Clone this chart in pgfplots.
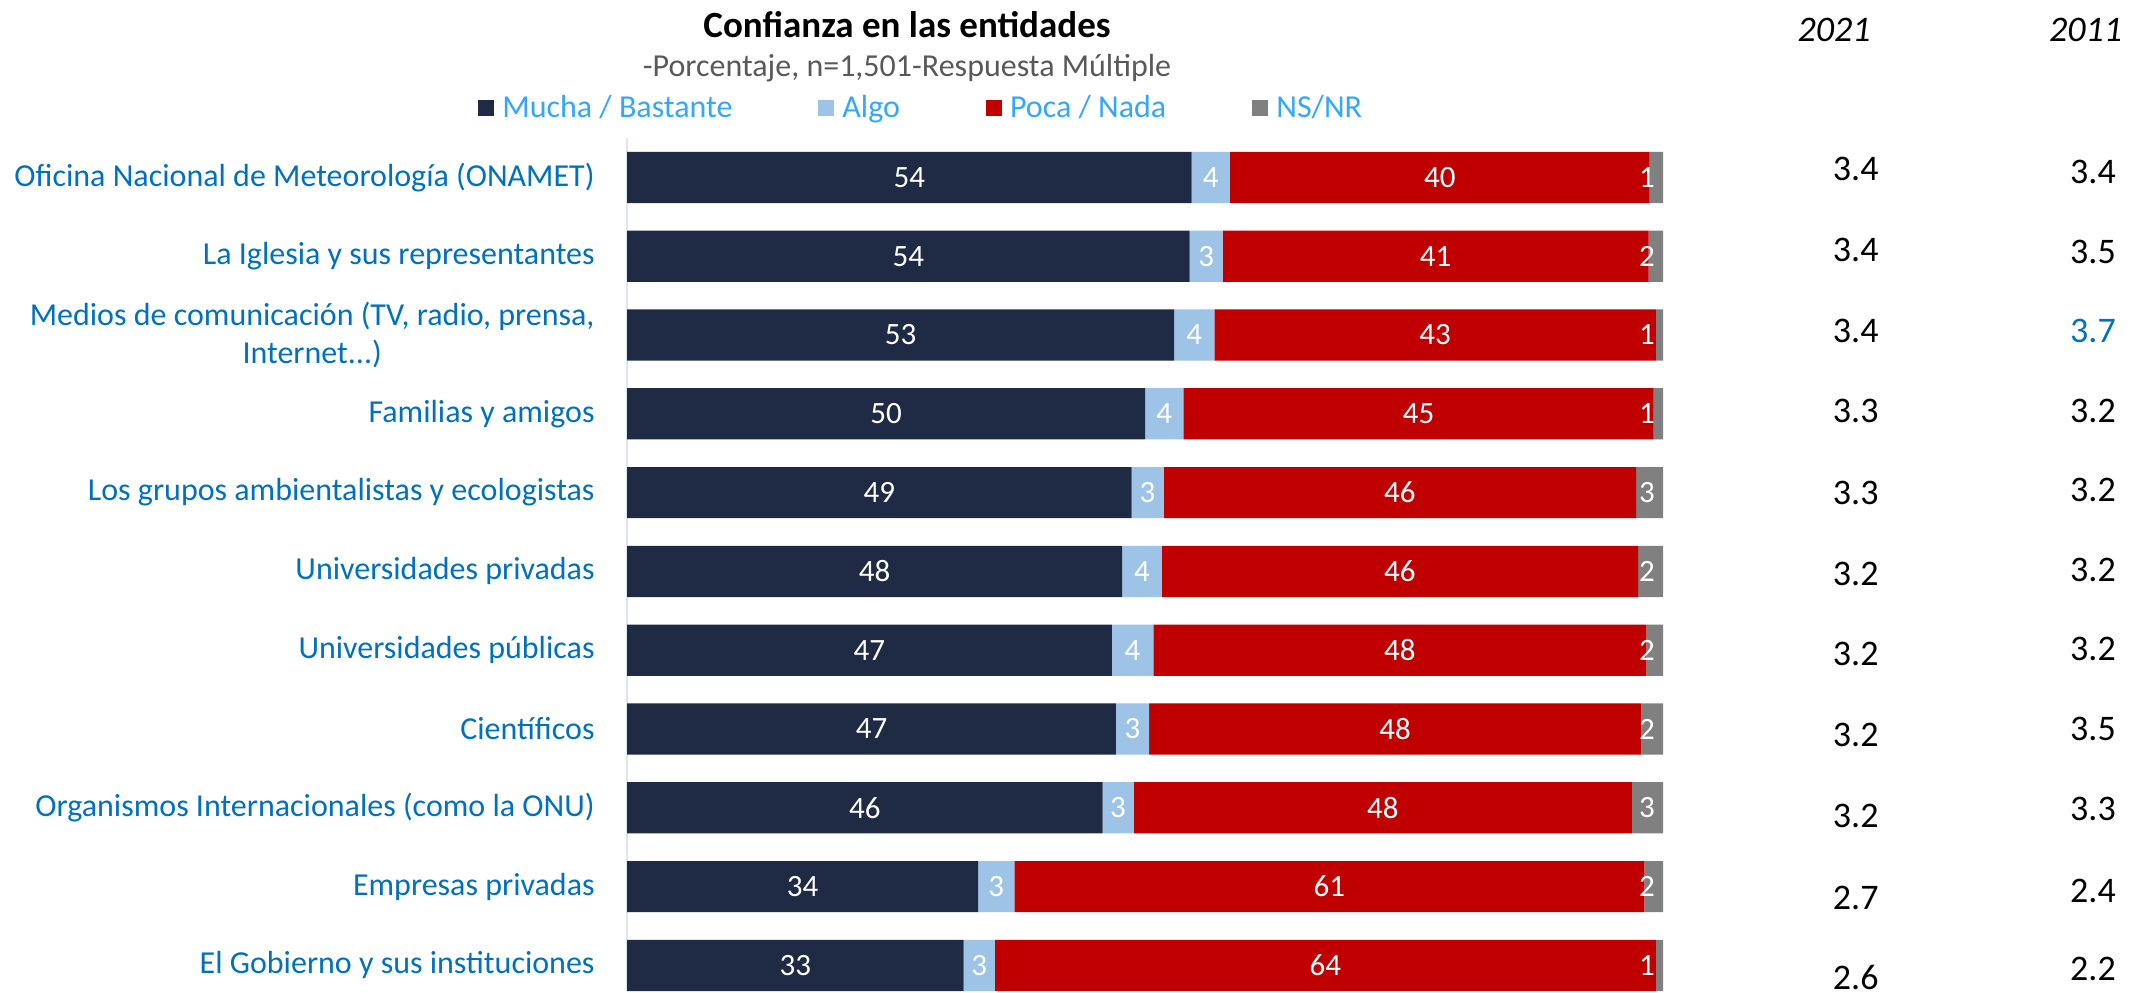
\documentclass[border=0pt]{standalone}
\usepackage{fontspec}
\setmainfont{Carlito}
\usepackage{pgfplots}
\usepackage{pgfplotstable}
\pgfplotsset{compat=1.18}
\definecolor{cdark}{RGB}{31,42,68}
\definecolor{calgo}{RGB}{157,195,230}
\definecolor{cred}{RGB}{192,0,0}
\definecolor{cgray}{RGB}{128,128,128}
\definecolor{catblue}{RGB}{0,112,192}
\definecolor{legblue}{RGB}{51,166,255}
\definecolor{subgray}{RGB}{89,89,89}
\definecolor{axline}{RGB}{218,230,242}
\newcommand{\threedots}{.\kern0pt.\kern0pt.}

\pgfplotstableread{
y val lab
0 54.5 54
1 54.3 54
2 52.8 53
3 50.0 50
4 48.7 49
5 47.8 48
6 46.8 47
7 47.2 47
8 45.9 46
9 33.9 34
10 32.5 33
}\mucha
\pgfplotstableread{
y val lab
0 3.7 4
1 3.2 3
2 3.9 4
3 3.7 4
4 3.1 3
5 3.8 4
6 4.0 4
7 3.2 3
8 3.0 3
9 3.5 3
10 3.0 3
}\algo
\pgfplotstableread{
y val lab
0 40.5 40
1 41.1 41
2 42.6 43
3 45.4 45
4 45.6 46
5 46.0 46
6 47.6 48
7 47.5 48
8 48.1 48
9 60.8 61
10 63.8 64
}\poca
\pgfplotstableread{
y val lab
0 1.3 1
1 1.4 2
2 0.7 1
3 0.9 1
4 2.6 3
5 2.4 2
6 1.6 2
7 2.1 2
8 3.0 3
9 1.8 2
10 0.7 1
}\nsnr

\begin{document}
\begin{tikzpicture}
\useasboundingbox (0,0) rectangle (1070.5pt,-496pt);
\begin{axis}[
  at={(313.5pt,-69pt)}, anchor=north west,
  scale only axis, width=518pt, height=426.5pt,
  xbar stacked, bar width=0.65,
  xmin=0, xmax=100, ymin=-0.5, ymax=10.325, y dir=reverse,
  axis x line=none, axis y line*=left,
  y axis line style={draw=axline, line width=1pt, -},
  ytick={0,1,2,3,4,5,6,7,8,9,10},
  yticklabels={Oficina Nacional de Meteorología (ONAMET),
    La Iglesia y sus representantes,
    {Medios de comunicación (TV, radio, prensa,\\Internet\threedots)},
    Familias y amigos,
    Los grupos ambientalistas y ecologistas,
    Universidades privadas,
    Universidades públicas,
    Científicos,
    Organismos Internacionales (como la ONU),
    Empresas privadas,
    El Gobierno y sus instituciones},
  major tick length=0pt,
  yticklabel style={font=\fontsize{16pt}{19pt}\selectfont, text=catblue, align=center, anchor=east, inner sep=0pt, xshift=-16pt},
  nodes near coords, point meta=explicit symbolic,
  every node near coord/.append style={font=\fontsize{15.5pt}{18pt}\selectfont, text=white, anchor=center},
  clip=false,
  legend image code/.code={\fill[#1] (0pt,-4pt) rectangle (8pt,4pt);},
  legend style={at={(-0.1438,1.0354)}, anchor=west, draw=none, fill=none, inner sep=0pt,
    legend columns=4, font=\fontsize{16pt}{19pt}\selectfont, text=legblue,
    /tikz/every even column/.append style={column sep=41pt},
    /tikz/every odd column/.append style={column sep=2pt}},
  legend cell align=left,
]
\addplot[fill=cdark, draw=none] table[x=val, y=y, meta=lab]{\mucha};
\addplot[fill=calgo, draw=none] table[x=val, y=y, meta=lab]{\algo};
\addplot[fill=cred, draw=none] table[x=val, y=y, meta=lab]{\poca};
\addplot[fill=cgray, draw=none,
  visualization depends on={\thisrow{val} \as \segval},
  nodes near coords style={xshift={min(0,2.59*\segval-8)*1pt}}] table[x=val, y=y, meta=lab]{\nsnr};
\legend{Mucha / Bastante, Algo, Poca / Nada, NS/NR}
\end{axis}
\begin{axis}[
  at={(313.5pt,-69pt)}, anchor=north west,
  scale only axis, width=518pt, height=426.5pt,
  xmin=0, xmax=100, ymin=-0.5, ymax=10.325, y dir=reverse,
  hide axis, clip=false,
  nodes near coords, point meta=explicit symbolic,
  every node near coord/.append style={font=\fontsize{18pt}{21pt}\selectfont, anchor=center},
]
\addplot[only marks, mark=none, nodes near coords style={text=black}] coordinates {
(118.6,-0.11)[3.4] (118.6,0.92)[3.4] (118.6,1.95)[3.4] (118.6,2.97)[3.3]
(118.6,4.00)[3.3] (118.6,5.03)[3.2] (118.6,6.05)[3.2] (118.6,7.08)[3.2]
(118.6,8.10)[3.2] (118.6,9.14)[2.7] (118.6,10.15)[2.6]};
\addplot[only marks, mark=none, nodes near coords style={text=black}] coordinates {
(141.5,-0.075)[3.4] (141.5,0.94)[3.5] (141.5,2.96)[3.2]
(141.5,3.97)[3.2] (141.5,4.98)[3.2] (141.5,5.99)[3.2] (141.5,7.00)[3.5]
(141.5,8.01)[3.3] (141.5,9.05)[2.4] (141.5,10.05)[2.2]};
\addplot[only marks, mark=none, nodes near coords style={text=catblue}] coordinates {
(141.5,1.95)[3.7]};
\end{axis}
\node[font=\bfseries\fontsize{18.5pt}{22pt}\selectfont] at (453.5pt,-12.5pt) {Confianza en las entidades};
\node[font=\fontsize{16pt}{19pt}\selectfont, text=subgray] at (453.5pt,-34.2pt) {-Porcentaje, n=1,501-Respuesta Múltiple};
\node[font=\itshape\fontsize{18pt}{21pt}\selectfont] at (917pt,-15pt) {2021};
\node[font=\itshape\fontsize{18pt}{21pt}\selectfont] at (1042.8pt,-15pt) {2011};
\end{tikzpicture}
\end{document}
